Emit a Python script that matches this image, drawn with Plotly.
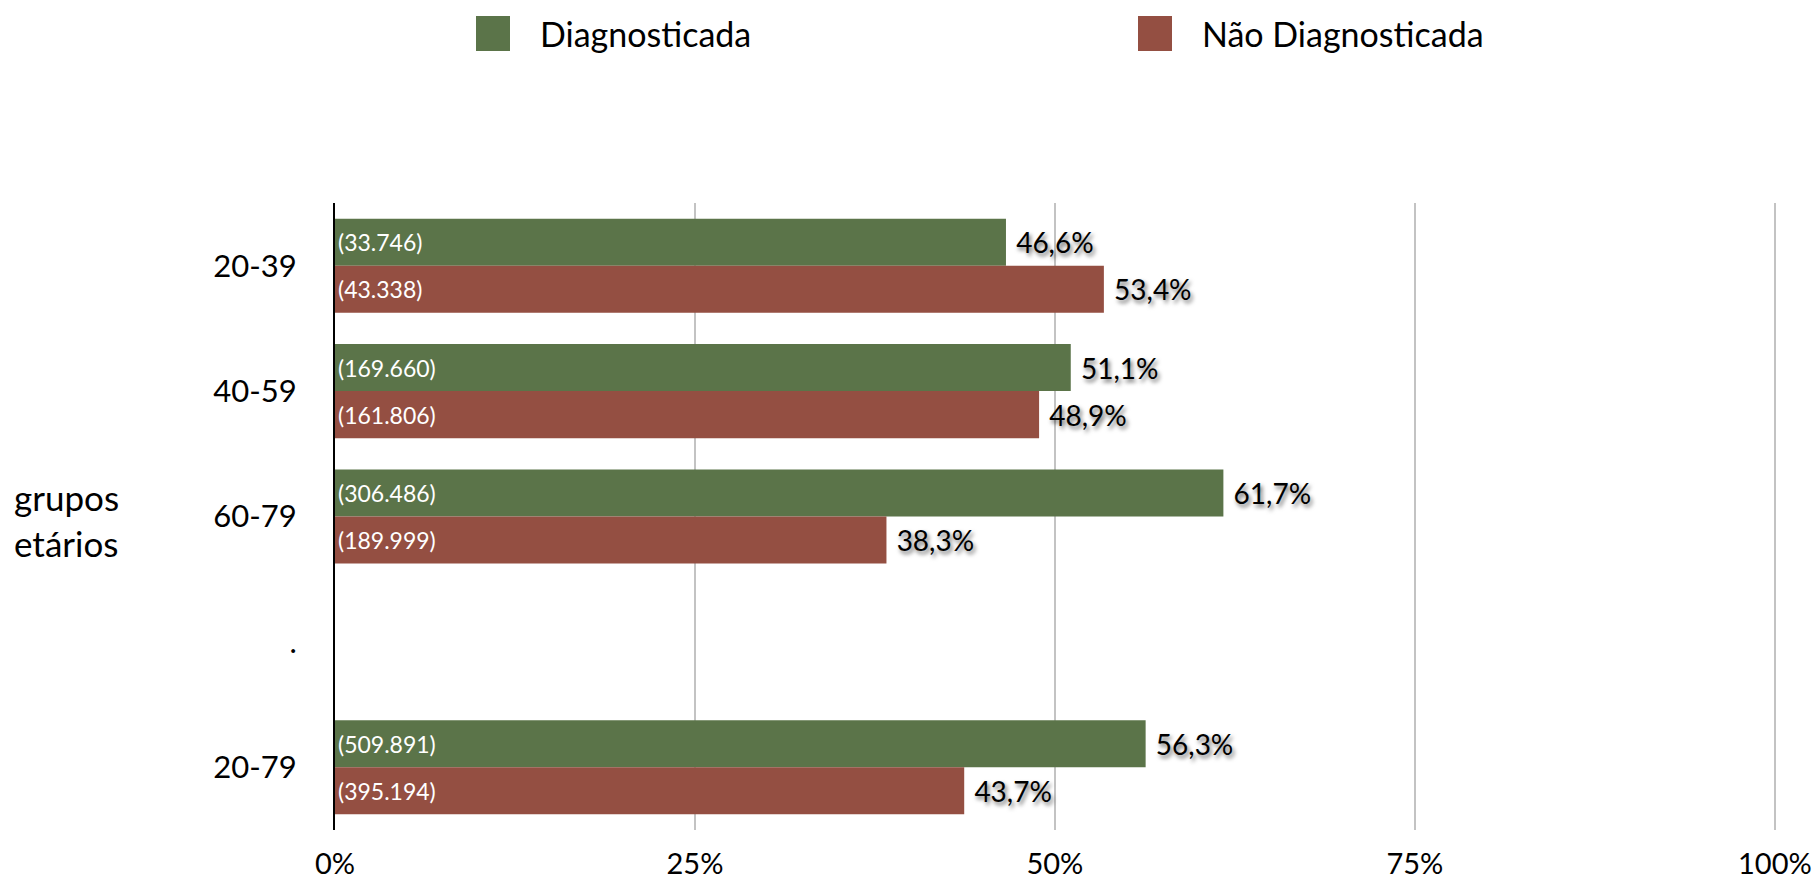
import plotly.graph_objects as go

categories = ["20-39", "40-59", "60-79", ".", "20-79"]
diag_pct = [46.6, 51.1, 61.7, None, 56.3]
nao_pct = [53.4, 48.9, 38.3, None, 43.7]
diag_n = ["(33.746)", "(169.660)", "(306.486)", "", "(509.891)"]
nao_n = ["(43.338)", "(161.806)", "(189.999)", "", "(395.194)"]
x_ticks = [0, 25, 50, 75, 100]
x_ticktext = ["0%", "25%", "50%", "75%", "100%"]

GREEN = "#5b7449"
RED = "#944f42"
FONT = "Lato"


def pct_txt(vals):
    return ["" if v is None else " " + f"{v:.1f}".replace(".", ",") + "%" for v in vals]


fig = go.Figure()
fig.add_trace(go.Bar(
    y=categories, x=diag_pct, orientation="h", name="Diagnosticada",
    marker=dict(color=GREEN, line=dict(width=0)), offsetgroup="d",
    text=diag_n, textposition="inside", insidetextanchor="start",
    textfont=dict(family=FONT, size=23, color="white"), constraintext="none",
))
fig.add_trace(go.Bar(
    y=categories, x=nao_pct, orientation="h", name="Não Diagnosticada",
    marker=dict(color=RED, line=dict(width=0)), offsetgroup="n",
    text=nao_n, textposition="inside", insidetextanchor="start",
    textfont=dict(family=FONT, size=23, color="white"), constraintext="none",
))
for vals, og in [(diag_pct, "d"), (nao_pct, "n")]:
    fig.add_trace(go.Bar(
        y=categories, x=vals, orientation="h", showlegend=False,
        marker=dict(color="rgba(0,0,0,0)", line=dict(width=0)), offsetgroup=og,
        text=pct_txt(vals), textposition="outside", cliponaxis=False,
        textfont=dict(family=FONT, size=28, color="black",
                      shadow="2px 3px 4px rgba(0,0,0,0.6)"),
        constraintext="none", hoverinfo="skip",
    ))

# manual legend (large swatches)
W, H, L, T, B, R = 1812, 881, 335, 203, 51, 36
pw, ph = W - L - R, H - T - B


def px(x):
    return (x - L) / pw


def py(y):
    return (H - B - y) / ph


shapes = []
annotations = []
for (x0, label, col) in [(476, "Diagnosticada", GREEN), (1138, "Não Diagnosticada", RED)]:
    shapes.append(dict(type="rect", xref="paper", yref="paper",
                       x0=px(x0), x1=px(x0 + 34), y0=py(51), y1=py(16),
                       fillcolor=col, line=dict(width=0)))
    annotations.append(dict(xref="paper", yref="paper", x=px(x0 + 62), y=py(33),
                            xanchor="left", yanchor="middle", text=label, showarrow=False,
                            font=dict(family=FONT, size=34, color="black")))
annotations.append(dict(xref="paper", yref="paper", x=px(12), y=py(520),
                        xanchor="left", yanchor="middle", align="left",
                        text="grupos<br>etários", showarrow=False,
                        font=dict(family=FONT, size=35, color="black")))

fig.update_layout(
    width=W, height=H,
    margin=dict(l=L, r=R, t=T, b=B, autoexpand=False),
    plot_bgcolor="white", paper_bgcolor="white",
    barmode="group", bargap=0.25, bargroupgap=0,
    showlegend=False,
    shapes=shapes, annotations=annotations,
    font=dict(family=FONT, color="black"),
    xaxis=dict(range=[0, 100.08], tickvals=x_ticks, ticktext=x_ticktext,
               showgrid=True, gridcolor="#c3c3c3", gridwidth=2, zeroline=False,
               showline=False, ticks="", tickfont=dict(family=FONT, size=29),
               ticklabelstandoff=14, ticklabeloverflow="allow",
               fixedrange=True, automargin=False),
    yaxis=dict(type="category", categoryorder="array", categoryarray=categories,
               autorange="reversed", showline=True, linecolor="black", linewidth=2,
               showgrid=False, ticks="", tickfont=dict(family=FONT, size=31),
               ticklabelstandoff=30, automargin=False),
)

fig.write_html(
    "out.html",
    config={"displayModeBar": False},
    post_script="document.body.style.margin='0';document.body.style.overflow='hidden';",
)
